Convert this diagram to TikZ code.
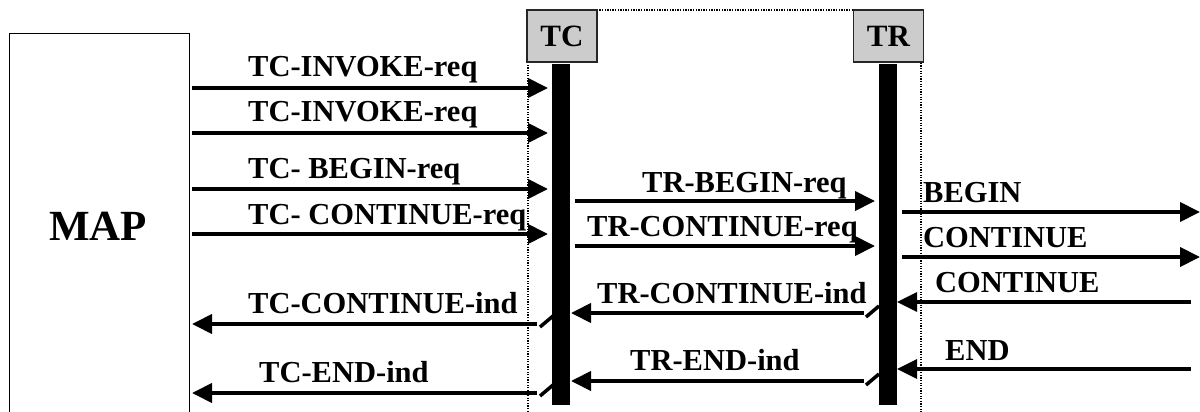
\documentclass[tikz,border=0pt]{standalone}
\usepackage{fontspec}
\setmainfont{Liberation Serif}
\usetikzlibrary{arrows.meta}
\begin{document}
\begin{tikzpicture}[x=1pt,y=-1pt,
  lbl/.style={anchor=base west,inner sep=0pt,font=\fontsize{30.5}{32}\selectfont\bfseries},
  msg/.style={line width=4pt,-{Triangle[length=20pt,width=19pt]}},
  tick/.style={line width=3.5pt},
  ent/.style={draw=black!85,line width=1.5pt,fill=black!20,minimum width=70pt,minimum height=52pt,inner sep=0pt,font=\fontsize{31}{32}\selectfont\bfseries},
  bar/.style={fill=black,draw=none,minimum width=18pt,minimum height=341pt,inner sep=0pt}]
\useasboundingbox (0,0) rectangle (1200,412);
% frame around protocol layers
\draw[line width=1.5pt,dash pattern=on 1.3pt off 1.3pt] (528,430) -- (528,10) -- (921,10) -- (921,430);
% MAP box
\node[draw,line width=1.4pt,minimum width=180pt,minimum height=400pt,anchor=north west,inner sep=0pt] (map) at (9,33) {};
\node[font=\fontsize{43}{44}\selectfont\bfseries,anchor=base,inner sep=0pt] (maptxt) at (98,240) {MAP};
% entities
\node[ent] (tc) at (562,36) {TC};
\node[ent] (tr) at (888.5,36) {TR};
\node[bar,anchor=north] (tcbar) at (561,64) {};
\node[bar,anchor=north] (trbar) at (888,64) {};
% coordinates
\coordinate (a1s) at (192,88);  \coordinate (a1e) at (548,88);
\coordinate (a2s) at (192,133); \coordinate (a2e) at (548,133);
\coordinate (a3s) at (192,189); \coordinate (a3e) at (548,189);
\coordinate (a4s) at (192,234); \coordinate (a4e) at (548,234);
\coordinate (a5s) at (537,324); \coordinate (a5e) at (192,324);
\coordinate (a6s) at (537,393); \coordinate (a6e) at (192,393);
\coordinate (m1s) at (575,201); \coordinate (m1e) at (875,201);
\coordinate (m2s) at (575,246); \coordinate (m2e) at (875,246);
\coordinate (m3s) at (864,313); \coordinate (m3e) at (571,313);
\coordinate (m4s) at (864,381); \coordinate (m4e) at (571,381);
\coordinate (r1s) at (902,212); \coordinate (r1e) at (1200,212);
\coordinate (r2s) at (902,257); \coordinate (r2e) at (1200,257);
\coordinate (r3s) at (1191,302); \coordinate (r3e) at (897,302);
\coordinate (r4s) at (1191,369); \coordinate (r4e) at (897,369);
% left messages
\draw[msg] (a1s) -- (a1e);
\draw[msg] (a2s) -- (a2e);
\draw[msg] (a3s) -- (a3e);
\draw[msg] (a4s) -- (a4e);
\draw[msg] (a5s) -- (a5e);
\draw[msg] (a6s) -- (a6e);
\coordinate (t5a) at (540,327); \coordinate (t5b) at (553,316);
\coordinate (t6a) at (540,396); \coordinate (t6b) at (553,385);
\draw[tick] (t5a) -- (t5b);
\draw[tick] (t6a) -- (t6b);
% middle messages
\draw[msg] (m1s) -- (m1e);
\draw[msg] (m2s) -- (m2e);
\draw[msg] (m3s) -- (m3e);
\draw[msg] (m4s) -- (m4e);
\coordinate (t7a) at (866,317); \coordinate (t7b) at (879,306);
\coordinate (t8a) at (866,385); \coordinate (t8b) at (879,374);
\draw[tick] (t7a) -- (t7b);
\draw[tick] (t8a) -- (t8b);
% right messages
\draw[msg] (r1s) -- (r1e);
\draw[msg] (r2s) -- (r2e);
\draw[msg,line width=3.5pt] (r3s) -- (r3e);
\draw[msg,line width=3.5pt] (r4s) -- (r4e);
% labels
\node[lbl] (l1) at (248,76.7) {TC-INVOKE-req};
\node[lbl] (l2) at (248,121.7) {TC-INVOKE-req};
\node[lbl] (l3) at (248,178) {TC- BEGIN-req};
\node[lbl] (l4) at (248,224) {TC- CONTINUE-req};
\node[lbl] (l5) at (248,313) {TC-CONTINUE-ind};
\node[lbl] (l6) at (259,382) {TC-END-ind};
\node[lbl] (k1) at (642,192) {TR-BEGIN-req};
\node[lbl] (k2) at (587,236) {TR-CONTINUE-req};
\node[lbl] (k3) at (597,303) {TR-CONTINUE-ind};
\node[lbl] (k4) at (630,370) {TR-END-ind};
\node[lbl] (q1) at (923,202) {BEGIN};
\node[lbl] (q2) at (923,247) {CONTINUE};
\node[lbl] (q3) at (935,292) {CONTINUE};
\node[lbl] (q4) at (945,360) {END};
\end{tikzpicture}
\end{document}
